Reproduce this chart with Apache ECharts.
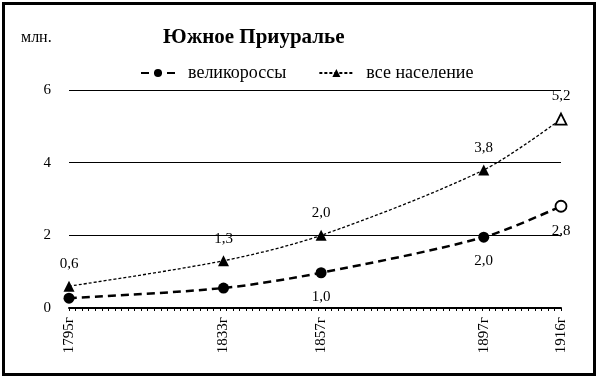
<!DOCTYPE html>
<html><head><meta charset="utf-8">
<script src="https://cdn.jsdelivr.net/npm/echarts@6/dist/echarts.min.js"></script>
<style>html,body{margin:0;padding:0;background:#fff}#c{width:600px;height:380px}</style>
</head><body><div id="c"></div>
<script>
const years = [1795, 1833, 1857, 1897, 1916];
const yearLabels = ['1795г', '1833г', '1857г', '1897г', '1916г'];
const greatRussians = [0.27, 0.55, 0.97, 1.95, 2.8];
const greatRussiansLabels = ['', '', '1,0', '2,0', '2,8'];
const totalPop = [0.6, 1.3, 2.0, 3.8, 5.2];
const totalPopLabels = ['0,6', '1,3', '2,0', '3,8', '5,2'];
const seriesNames = ['великороссы', 'все население'];
const yTicks = [0, 2, 4, 6];

const serif = '"Liberation Serif","DejaVu Serif",serif';
const chart = echarts.init(document.getElementById('c'));

function mkData(vals, labels) {
  return vals.map((v, i) => {
    const d = { value: [years[i], v], labelText: labels[i] };
    if (i === vals.length - 1) {
      d.itemStyle = { color: '#fff', borderColor: '#000', borderWidth: 1.8 };
    }
    return d;
  });
}

chart.setOption({
  animation: false,
  backgroundColor: '#fff',
  graphic: [
    { type: 'rect', shape: { x: 3.5, y: 3.5, width: 591, height: 371 },
      style: { fill: null, stroke: '#000', lineWidth: 3 } },
    { type: 'text', left: 21, top: 30,
      style: { text: 'млн.', font: '16px ' + serif, fill: '#000' } },
    { type: 'text', left: 163, top: 27,
      style: { text: 'Южное Приуралье', font: 'bold 21px ' + serif, fill: '#000' } }
  ],
  legend: {
    left: 135, top: 59, itemWidth: 34, itemHeight: 10, itemGap: 32,
    textStyle: { fontFamily: serif, fontSize: 18, color: '#000', padding: [0, 0, 0, 8] },
    data: seriesNames
  },
  grid: { left: 69, right: 39, top: 90, bottom: 72 },
  xAxis: [
    {
      type: 'value', min: years[0], max: years[years.length - 1],
      axisLine: { lineStyle: { color: '#000', width: 2 } },
      axisTick: { show: false },
      splitLine: { show: false },
      axisLabel: {
        customValues: years, rotate: 90, margin: 9,
        fontFamily: serif, fontSize: 15, color: '#000',
        formatter: v => yearLabels[years.indexOf(v)]
      }
    },
    {
      type: 'value', min: 0, max: 75, interval: 1, position: 'bottom',
      axisLine: { show: false },
      axisTick: { show: true, length: 3, lineStyle: { color: '#000', width: 1 } },
      axisLabel: { show: false },
      splitLine: { show: false }
    }
  ],
  yAxis: {
    type: 'value', min: 0, max: 6, interval: 2,
    axisLine: { show: false }, axisTick: { show: false },
    splitLine: { lineStyle: { color: '#000', width: 1 } },
    axisLabel: { margin: 18, fontFamily: serif, fontSize: 15, color: '#000',
      formatter: v => yTicks.includes(v) ? String(v) : '' }
  },
  series: [
    {
      name: seriesNames[0], type: 'line', xAxisIndex: 0,
      data: mkData(greatRussians, greatRussiansLabels),
      smooth: 0.3,
      symbol: 'circle', symbolSize: 11,
      itemStyle: { color: '#000' },
      lineStyle: { color: '#000', width: 2.5, type: [8, 5] },
      label: { show: true, position: 'bottom', distance: 11,
        fontFamily: serif, fontSize: 15, color: '#000',
        formatter: p => p.data.labelText },
      z: 3
    },
    {
      name: seriesNames[1], type: 'line', xAxisIndex: 0,
      data: mkData(totalPop, totalPopLabels),
      smooth: 0.3,
      symbol: 'triangle', symbolSize: 11,
      itemStyle: { color: '#000' },
      lineStyle: { color: '#000', width: 1.3, type: [3, 2] },
      label: { show: true, position: 'top', distance: 9,
        fontFamily: serif, fontSize: 15, color: '#000',
        formatter: p => p.data.labelText },
      z: 3
    }
  ]
});
</script></body></html>
